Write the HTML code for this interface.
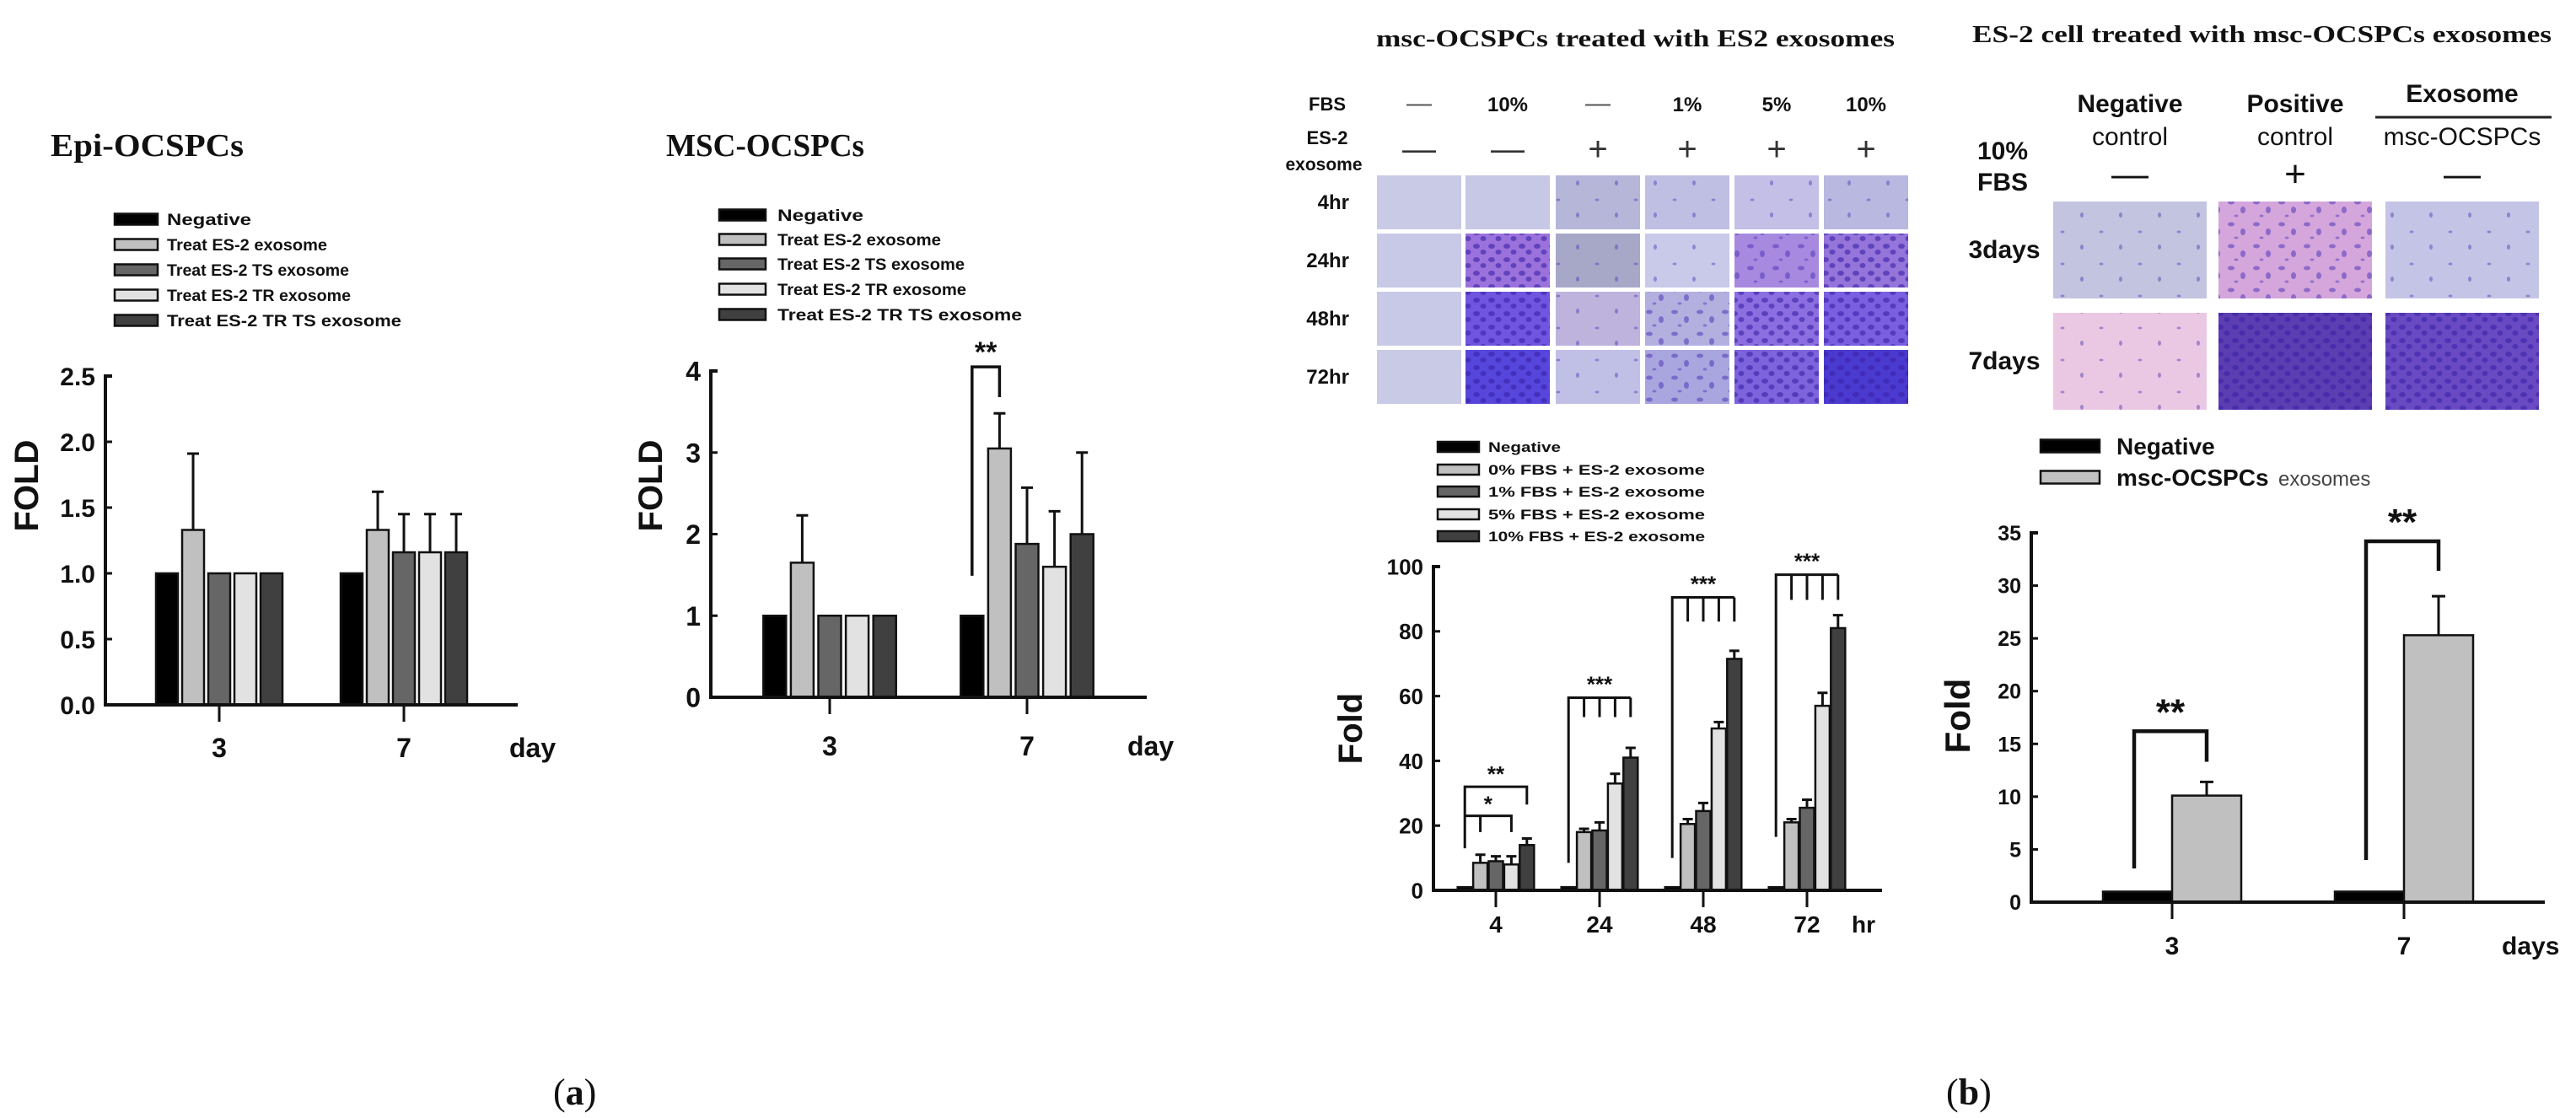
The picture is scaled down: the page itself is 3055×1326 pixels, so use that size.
<!DOCTYPE html>
<html><head><meta charset="utf-8"><title>Exosome figure</title>
<style>
html,body{margin:0;padding:0;background:#fff;}
svg{display:block;}
text{font-family:"Liberation Sans",Arial,sans-serif;font-weight:bold;fill:#111;}
.serif{font-family:"Liberation Serif","Times New Roman",serif;}
</style></head>
<body>
<svg id="root" width="3055" height="1326" viewBox="0 0 3055 1326" xmlns="http://www.w3.org/2000/svg">
<defs>
<pattern id="cells1" width="46" height="38" patternUnits="userSpaceOnUse">
<ellipse cx="8" cy="9" rx="2.5" ry="1.5" fill="#5a40b8" opacity="0.5"/>
<ellipse cx="31" cy="27" rx="2" ry="3" fill="#5a40b8" opacity="0.5"/>
</pattern>
<pattern id="cells2" width="30" height="26" patternUnits="userSpaceOnUse">
<ellipse cx="6" cy="6" rx="4" ry="2.5" fill="#5238b8" opacity="0.55"/>
<ellipse cx="20" cy="15" rx="3" ry="4" fill="#5238b8" opacity="0.55"/>
<ellipse cx="12" cy="22" rx="2.5" ry="1.5" fill="#5238b8" opacity="0.5"/>
</pattern>
<pattern id="cells3" width="18" height="16" patternUnits="userSpaceOnUse">
<ellipse cx="5" cy="4" rx="4" ry="3" fill="#3a22a8" opacity="0.6"/>
<ellipse cx="13" cy="11" rx="3.5" ry="3" fill="#3a22a8" opacity="0.6"/>
</pattern>
</defs>
</svg>
<script>
// ---------- DATA ----------
const dayCats = ['3', '7'];
const epiNegative = [1, 1];
const epiES2 = [1.33, 1.33];
const epiTS = [1, 1.16];
const epiTR = [1, 1.16];
const epiTRTS = [1, 1.16];
const epiES2Err = [1.91, 1.62];
const epiTSErr = [null, 1.45];
const epiTRErr = [null, 1.45];
const epiTRTSErr = [null, 1.45];
const epiTicks = [0, 0.5, 1.0, 1.5, 2.0, 2.5];
const epiTickLabels = ['0.0', '0.5', '1.0', '1.5', '2.0', '2.5'];
const mscNegative = [1, 1];
const mscES2 = [1.65, 3.05];
const mscTS = [1, 1.88];
const mscTR = [1, 1.6];
const mscTRTS = [1, 2.0];
const mscES2Err = [2.23, 3.48];
const mscTSErr = [null, 2.57];
const mscTRErr = [null, 2.28];
const mscTRTSErr = [null, 3.0];
const mscTicks = [0, 1, 2, 3, 4];
const legendA = ['Negative', 'Treat ES-2 exosome', 'Treat ES-2 TS exosome', 'Treat ES-2 TR exosome', 'Treat ES-2 TR TS exosome'];
const hrCats = ['4', '24', '48', '72'];
const hrNegative = [1, 1, 1, 1];
const hrFBS0 = [8.5, 18, 20.5, 21];
const hrFBS1 = [9, 18.5, 24.5, 25.5];
const hrFBS5 = [8, 33, 50, 57];
const hrFBS10 = [14, 41, 71.5, 81];
const hrFBS0Err = [11, 19, 22, 22];
const hrFBS1Err = [10.5, 21, 27, 28];
const hrFBS5Err = [10.5, 36, 52, 61];
const hrFBS10Err = [16, 44, 74, 85];
const hrTicks = [0, 20, 40, 60, 80, 100];
const legendB1 = ['Negative', '0%  FBS + ES-2 exosome', '1%  FBS + ES-2 exosome', '5%  FBS + ES-2 exosome', '10% FBS + ES-2 exosome'];
const dayCats2 = ['3', '7'];
const es2Negative = [1, 1];
const es2Exo = [10.1, 25.3];
const es2ExoErr = [11.4, 29];
const es2Ticks = [0, 5, 10, 15, 20, 25, 30, 35];
const legendB2 = ['Negative', 'msc-OCSPCs'];

const fills = ['#000000', '#c0c0c0', '#666666', '#e2e2e2', '#404040'];
const svg = document.getElementById('root');
const NS = 'http://www.w3.org/2000/svg';

function mk(tag, attrs, parent) {
  const e = document.createElementNS(NS, tag);
  for (const k in attrs) e.setAttribute(k, attrs[k]);
  (parent || svg).appendChild(e);
  return e;
}
function txt(s, x, y, size, anchor, parent, extra) {
  const t = mk('text', Object.assign({x: x, y: y, 'font-size': size, 'text-anchor': anchor || 'start'}, extra || {}), parent);
  t.textContent = s;
  return t;
}

function barChart(c) {
  const g = mk('g', {});
  
  
  const y = v => c.y0 - v * (c.y0 - c.yTopPx) / c.yMax;
  const xc = i => c.firstCenter + i * c.step;
  const barX = (gi, si) => xc(gi) + (si - (c.series.length - 1) / 2) * c.pitch - c.barW / 2;
  c.series.forEach((arr, si) => {
    arr.forEach((v, gi) => {
      const r = mk('rect', {x: barX(gi, si), y: y(v), width: c.barW, height: c.y0 - y(v), fill: fills[c.fillIdx[si]], stroke: '#111', 'stroke-width': 2.5}, g);
      
      
      const e = c.errs[si] ? c.errs[si][gi] : null;
      if (e != null) {
        const cx = barX(gi, si) + c.barW / 2;
        const l = mk('path', {d: 'M' + cx + ' ' + y(v) + 'V' + y(e) + 'M' + (cx - c.capW) + ' ' + y(e) + 'H' + (cx + c.capW), stroke: '#111', 'stroke-width': 3, fill: 'none'}, g);
        
        
      }
    });
  });
  const ya = mk('path', {d: 'M' + (c.axisX + 8) + ' ' + y(c.yMax) + 'H' + c.axisX + 'V' + c.y0 + 'H' + c.axisEnd, stroke: '#111', 'stroke-width': 4, fill: 'none'}, g);
  
  
  c.ticks.forEach((t, i) => {
    mk('line', {x1: c.axisX, x2: c.axisX + 8, y1: y(t), y2: y(t), stroke: '#111', 'stroke-width': 3}, g);
    const tl = txt(c.tickLabels[i], c.axisX - 12, y(t) + c.tickSize * 0.36, c.tickSize, 'end', g);
    
    
  });
  c.cats.forEach((cat, i) => {
    mk('line', {x1: xc(i), x2: xc(i), y1: c.y0, y2: c.y0 + 20, stroke: '#111', 'stroke-width': 3}, g);
    const xl = txt(cat, xc(i), c.xLabelY, c.xSize, 'middle', g);
    
    
  });
  const u = txt(c.unit, c.unitX, c.xLabelY, c.xSize, 'start', g);
  
  
  const yt = txt(c.yTitle, 0, 0, c.yTitleSize, 'middle', g, {transform: 'translate(' + c.yTitleX + ',' + c.yTitleY + ') rotate(-90)'});
  
  
  return {y: y, barX: barX, xc: xc, g: g};
}

function legend(name, items, fillIdx, sx, sw, sh, tx, ys, size, lens) {
  const g = mk('g', {});
  
  
  items.forEach((s, i) => {
    const r = mk('rect', {x: sx, y: ys[i] - sh / 2, width: sw, height: sh, fill: fills[fillIdx[i]], stroke: '#111', 'stroke-width': 2.5}, g);
    
    
    const t = txt(s, tx, ys[i] + size * 0.36, size, 'start', g, lens ? {textLength: lens[i], lengthAdjust: 'spacingAndGlyphs'} : {});
    
    
  });
  return g;
}

function bracket(name, pts, sw) {
  const p = mk('path', {d: pts, stroke: '#111', 'stroke-width': sw || 3.5, fill: 'none'});
  
  
}
function star(s, x, y, size) {
  const t = txt(s, x, y, size, 'middle');
  
  
}

// ---------- Panel a: Epi ----------
let t;
t = txt('Epi-OCSPCs', 60, 185, 38, 'start', svg, {class: 'serif', textLength: 229, lengthAdjust: 'spacingAndGlyphs'});


legend('epi-legend', legendA, [0, 1, 2, 3, 4], 136, 51, 13, 198, [260, 290, 320, 350, 380], 19, [100, 190, 216, 218, 278]);
barChart({name: 'epi-bar-chart', cats: dayCats, series: [epiNegative, epiES2, epiTS, epiTR, epiTRTS],
  errs: [null, epiES2Err, epiTSErr, epiTRErr, epiTRTSErr], fillIdx: [0, 1, 2, 3, 4],
  seriesNames: ['negative', 'es2', 'ts', 'tr', 'trts'],
  y0: 836, yTopPx: 446, yMax: 2.5, axisX: 125, axisEnd: 614, firstCenter: 260, step: 219,
  barW: 26, pitch: 31, capW: 7, ticks: epiTicks, tickLabels: epiTickLabels, tickSize: 30,
  xLabelY: 898, xSize: 32, unit: 'day', unitX: 604, yTitle: 'FOLD', yTitleSize: 40, yTitleX: 45, yTitleY: 576});

// ---------- Panel a: MSC ----------
t = txt('MSC-OCSPCs', 790, 185, 38, 'start', svg, {class: 'serif', textLength: 235, lengthAdjust: 'spacingAndGlyphs'});


legend('msc-legend', legendA, [0, 1, 2, 3, 4], 853, 55, 13, 922, [255, 284, 313, 343, 373], 19, [102, 194, 222, 224, 290]);
const msc = barChart({name: 'msc-bar-chart', cats: dayCats, series: [mscNegative, mscES2, mscTS, mscTR, mscTRTS],
  errs: [null, mscES2Err, mscTSErr, mscTRErr, mscTRTSErr], fillIdx: [0, 1, 2, 3, 4],
  seriesNames: ['negative', 'es2', 'ts', 'tr', 'trts'],
  y0: 827, yTopPx: 440, yMax: 4, axisX: 843, axisEnd: 1360, firstCenter: 984, step: 234,
  barW: 27, pitch: 32.6, capW: 7, ticks: mscTicks, tickLabels: mscTicks.map(String), tickSize: 32,
  xLabelY: 896, xSize: 32, unit: 'day', unitX: 1337, yTitle: 'FOLD', yTitleSize: 40, yTitleX: 785, yTitleY: 576});
{
  const l = msc.barX(1, 0) + 13.5, r = msc.barX(1, 1) + 13.5;
  bracket('significance-bracket-msc-day7', 'M' + l + ' ' + msc.y(1.49) + 'V' + msc.y(4.05) + 'H' + r + 'V' + msc.y(3.68));
  star('**', (l + r) / 2, msc.y(4.05) - 6, 34);
}

// ---------- Panel b left: photos ----------
t = txt('msc-OCSPCs treated with ES2 exosomes', 1632, 55, 28, 'start', svg, {class: 'serif', textLength: 615, lengthAdjust: 'spacingAndGlyphs'});


const fbsCols = ['—', '10%', '—', '1%', '5%', '10%'];
const exoCols = ['—', '—', '+', '+', '+', '+'];
const colX = [1683, 1788, 1895, 2001, 2107, 2213];
t = txt('FBS', 1574, 131, 22, 'middle');  
t = txt('ES-2', 1574, 171, 22, 'middle');  
t = txt('exosome', 1570, 202, 21, 'middle');  
fbsCols.forEach((s, i) => {
  const a = txt(s, colX[i], 132, s === '—' ? 30 : 24, 'middle', svg, s === '—' ? {style: 'fill:#555;font-weight:normal'} : {});
  
  
  const b = txt(exoCols[i], colX[i], 190, 40, 'middle', svg, {style: 'fill:#333;font-weight:normal'});
  
  
});
const rowLabels = ['4hr', '24hr', '48hr', '72hr'];
const rowY = [208, 277, 346, 415];
const photoCol = [
  ['#c9cbe6', '#c7c8e6', '#b5b6d8', '#bfbfe3', '#c3bfe6', '#b8b8e0'],
  ['#c8c9e6', '#9b72dc', '#a7a7c8', '#c9c9ea', '#a889e0', '#9575da'],
  ['#c8c9e6', '#6f55e0', '#bdb3dc', '#b3b0e0', '#8c6ee0', '#7a5fe0'],
  ['#c9cae6', '#5646dc', '#c0c0e6', '#a9a6df', '#7d63dc', '#4a3ad0']];
const photoDen = [[0, 0, 1, 1, 1, 1], [0, 3, 1, 1, 2, 3], [0, 3, 1, 2, 3, 3], [0, 3, 1, 2, 3, 3]];
rowLabels.forEach((s, r) => {
  const a = txt(s, 1600, rowY[r] + 40, 24, 'end');
  
  
  colX.forEach((cx, c) => {
    const p = mk('rect', {x: cx - 50, y: rowY[r], width: 100, height: 64, fill: photoCol[r][c]});
    
    
    if (photoDen[r][c] > 0) mk('rect', {x: cx - 50, y: rowY[r], width: 100, height: 64, fill: 'url(#cells' + photoDen[r][c] + ')'});
  });
});

// ---------- Panel b left: chart ----------
legend('hours-legend', legendB1, [0, 1, 2, 3, 4], 1705, 49, 12, 1765, [530, 557, 583, 610, 636], 17, [86, 257, 257, 257, 257]);
const hr = barChart({name: 'hours-bar-chart', cats: hrCats, series: [hrNegative, hrFBS0, hrFBS1, hrFBS5, hrFBS10],
  errs: [null, hrFBS0Err, hrFBS1Err, hrFBS5Err, hrFBS10Err], fillIdx: [0, 1, 2, 3, 4],
  seriesNames: ['negative', 'fbs0', 'fbs1', 'fbs5', 'fbs10'],
  y0: 1056, yTopPx: 672, yMax: 100, axisX: 1700, axisEnd: 2232, firstCenter: 1774, step: 123,
  barW: 17, pitch: 18.4, capW: 6, ticks: hrTicks, tickLabels: hrTicks.map(String), tickSize: 26,
  xLabelY: 1106, xSize: 28, unit: 'hr', unitX: 2196, yTitle: 'Fold', yTitleSize: 40, yTitleX: 1615, yTitleY: 864});
const hrBracketTop = [null, 59.5, 90.5, 97.5];
const hrBracketLeg = [null, 8.5, 10, 16.5];
const hrBracketTick = [null, 53.5, 83, 89.7];
{
  const cx = (gi, si) => hr.barX(gi, si) + 8.5;
  bracket('significance-bracket-4hr-2star', 'M' + cx(0, 0) + ' ' + hr.y(13) + 'V' + hr.y(32) + 'H' + cx(0, 4) + 'V' + hr.y(26.5), 3);
  star('**', (cx(0, 0) + cx(0, 4)) / 2, hr.y(32) - 6, 26);
  bracket('significance-bracket-4hr-1star', 'M' + cx(0, 0) + ' ' + hr.y(23) + 'H' + cx(0, 3) + 'V' + hr.y(18) + 'M' + cx(0, 1) + ' ' + hr.y(23) + 'V' + hr.y(18), 3);
  star('*', (cx(0, 0) + cx(0, 3)) / 2, hr.y(23) - 5, 26);
  for (let gi = 1; gi < 4; gi++) {
    let d = 'M' + cx(gi, 0) + ' ' + hr.y(hrBracketLeg[gi]) + 'V' + hr.y(hrBracketTop[gi]) + 'H' + cx(gi, 4);
    for (let si = 1; si < 5; si++) d += 'M' + cx(gi, si) + ' ' + hr.y(hrBracketTop[gi]) + 'V' + hr.y(hrBracketTick[gi]);
    bracket('significance-bracket-' + hrCats[gi] + 'hr', d, 3);
    star('***', (cx(gi, 0) + cx(gi, 4)) / 2, hr.y(hrBracketTop[gi]) - 7, 26);
  }
}

// ---------- Panel b right: photos ----------
t = txt('ES-2 cell treated with msc-OCSPCs exosomes', 2339, 50, 28, 'start', svg, {class: 'serif', textLength: 687, lengthAdjust: 'spacingAndGlyphs'});


const hdr = [['Negative', 'control'], ['Positive', 'control']];
const hdrX = [2526, 2722, 2920];
hdr.forEach((h, i) => {
  const a = txt(h[0], hdrX[i], 133, 30, 'middle');  
  const b = txt(h[1], hdrX[i], 172, 30, 'middle', svg, {style: 'font-weight:normal'});  
});
t = txt('Exosome', 2920, 121, 30, 'middle');  
mk('line', {x1: 2817, x2: 3026, y1: 139, y2: 139, stroke: '#222', 'stroke-width': 3});
t = txt('msc-OCSPCs', 2920, 172, 30, 'middle', svg, {style: 'font-weight:normal'});  
t = txt('10%', 2375, 189, 30, 'middle');  
t = txt('FBS', 2375, 226, 30, 'middle');  
['—', '+', '—'].forEach((s, i) => {
  const a = txt(s, hdrX[i], 221, 44, 'middle', svg, {style: 'font-weight:normal'});
  
  
});
const rPhotoCol = [['#c2c4e0', '#d4a6dc', '#c3c4e6'], ['#eac8e4', '#5c3db2', '#6a4ac2']];
const rPhotoDen = [[1, 2, 1], [1, 3, 3]];
const rRowY = [239, 371];
['3days', '7days'].forEach((s, r) => {
  const a = txt(s, 2377, rRowY[r] + 67, 30, 'middle');
  
  
  hdrX.forEach((cx, c) => {
    const p = mk('rect', {x: cx - 91, y: rRowY[r], width: 182, height: 115, fill: rPhotoCol[r][c]});
    
    
    mk('rect', {x: cx - 91, y: rRowY[r], width: 182, height: 115, fill: 'url(#cells' + rPhotoDen[r][c] + ')'});
  });
});

// ---------- Panel b right: chart ----------
{
  const g = legend('days-legend', legendB2, [0, 1], 2420, 70, 15, 2510, [529, 566], 28, null);
  const e = txt('exosomes', 2702, 576, 24, 'start', g, {style: 'font-weight:normal;fill:#444'});
  
  
}
const es2 = barChart({name: 'days-bar-chart', cats: dayCats2, series: [es2Negative, es2Exo],
  errs: [null, es2ExoErr], fillIdx: [0, 1], seriesNames: ['negative', 'exosome'],
  y0: 1070, yTopPx: 632, yMax: 35, axisX: 2409, axisEnd: 3018, firstCenter: 2576, step: 275,
  barW: 82, pitch: 82, capW: 8, ticks: es2Ticks, tickLabels: es2Ticks.map(String), tickSize: 25,
  xLabelY: 1132, xSize: 30, unit: 'days', unitX: 2967, yTitle: 'Fold', yTitleSize: 42, yTitleX: 2336, yTitleY: 849});
const es2BracketTop = [16.2, 34.2];
const es2BracketLeft = [3.2, 4];
const es2BracketRight = [13.3, 31.4];
es2BracketTop.forEach((v, gi) => {
  const l = es2.barX(gi, 0) + 37, r = es2.barX(gi, 1) + 41;
  bracket('significance-bracket-day' + dayCats2[gi], 'M' + l + ' ' + es2.y(es2BracketLeft[gi]) + 'V' + es2.y(v) + 'H' + r + 'V' + es2.y(es2BracketRight[gi]), 4.5);
  star('**', (l + r) / 2, es2.y(v) - 8, 44);
});

// ---------- panel labels ----------
t = txt('(', 656, 1310, 44, 'start', svg, {class: 'serif', style: 'font-weight:normal'});
t.innerHTML = '(<tspan font-weight="bold">a</tspan>)';


t = txt('(', 2308, 1310, 44, 'start', svg, {class: 'serif', style: 'font-weight:normal'});
t.innerHTML = '(<tspan font-weight="bold">b</tspan>)';


</script>
</body></html>
